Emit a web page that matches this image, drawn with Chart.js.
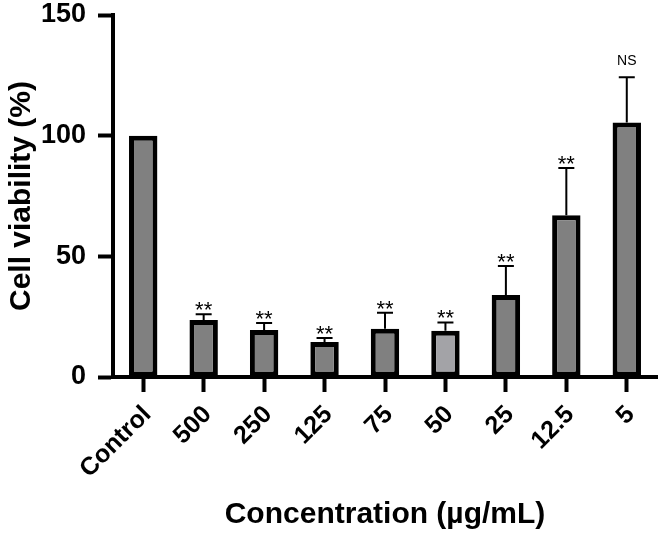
<!DOCTYPE html>
<html>
<head>
<meta charset="utf-8">
<script src="https://cdn.jsdelivr.net/npm/chart.js@4.4.1/dist/chart.umd.min.js"></script>
<style>
  html, body { margin: 0; padding: 0; background: #fff; }
  #wrap { width: 662px; height: 539px; }
</style>
</head>
<body>
<div id="wrap"><canvas id="chart"></canvas></div>
<script>
// Data
const categories = ['Control', '500', '250', '125', '75', '50', '25', '12.5', '5'];
const viability = [100, 23.6, 19.5, 14.5, 20, 19.2, 34, 67, 105.5];
const errorUp = [0, 2.4, 2.9, 1.7, 6.6, 3.4, 12, 19.6, 18.7];
const significance = ['', '**', '**', '**', '**', '**', '**', '**', 'NS'];
const yTicks = [0, 50, 100, 150];

const FONT = "'Liberation Sans', Arial, sans-serif";
const barFills = categories.map(c => c === '50' ? '#a3a3a7' : '#808080');

// Error bars + significance marks drawn on top of the bars
const errorBarPlugin = {
    id: 'errorBars',
    afterDatasetsDraw(chart) {
        const ctx = chart.ctx;
        const y = chart.scales.y;
        const bars = chart.getDatasetMeta(0).data;
        ctx.save();
        ctx.strokeStyle = '#000';
        ctx.fillStyle = '#000';
        ctx.lineWidth = 2;
        bars.forEach((bar, i) => {
            const top = y.getPixelForValue(viability[i]);
            const cap = y.getPixelForValue(viability[i] + errorUp[i]);
            if (errorUp[i] > 0) {
                ctx.beginPath();
                ctx.moveTo(bar.x, top);
                ctx.lineTo(bar.x, cap);
                ctx.moveTo(bar.x - 8, cap);
                ctx.lineTo(bar.x + 8, cap);
                ctx.stroke();
            }
            const mark = significance[i];
            if (!mark) return;
            ctx.textAlign = 'center';
            ctx.textBaseline = 'alphabetic';
            if (mark === 'NS') {
                ctx.font = '14px ' + FONT;
                ctx.fillText(mark, bar.x, cap - 12);
            } else {
                ctx.font = '22px ' + FONT;
                ctx.fillText(mark, bar.x, cap + 3);
            }
        });
        ctx.restore();
    }
};

new Chart(document.getElementById('chart').getContext('2d'), {
    type: 'bar',
    data: {
        labels: categories,
        datasets: [{
            data: viability,
            backgroundColor: barFills,
            borderColor: '#000',
            borderWidth: 5,
            borderSkipped: false,
            categoryPercentage: 1,
            barPercentage: 0.47
        }]
    },
    options: {
        responsive: true,
        maintainAspectRatio: false,
        animation: false,
        devicePixelRatio: 1,
        layout: { padding: { top: 15, right: 5, left: 0, bottom: 0 } },
        plugins: {
            legend: { display: false },
            tooltip: { enabled: false }
        },
        scales: {
            x: {
                offset: true,
                grid: {
                    offset: false,
                    drawOnChartArea: false,
                    drawTicks: true,
                    tickLength: 15,
                    tickWidth: 4,
                    tickColor: '#000'
                },
                border: { display: true, color: '#000', width: 4 },
                ticks: {
                    color: '#000',
                    font: { family: FONT, size: 25, weight: 'bold' },
                    minRotation: 45,
                    maxRotation: 45,
                    autoSkip: false,
                    padding: 8,
                    labelOffset: 4
                },
                title: {
                    display: true,
                    text: 'Concentration (µg/mL)',
                    color: '#000',
                    font: { family: FONT, size: 30, weight: 'bold' },
                    padding: { top: 0, bottom: 6 }
                },
                afterFit(scale) { scale.height = 162; }
            },
            y: {
                min: 0,
                max: 150,
                afterBuildTicks(scale) { scale.ticks = yTicks.map(v => ({ value: v })); },
                grid: {
                    drawOnChartArea: false,
                    drawTicks: true,
                    tickLength: 15,
                    tickWidth: 4,
                    tickColor: '#000'
                },
                border: { display: true, color: '#000', width: 4 },
                ticks: {
                    color: '#000',
                    font: { family: FONT, size: 27, weight: 'bold' },
                    padding: 12
                },
                title: {
                    display: true,
                    text: 'Cell viability (%)',
                    color: '#000',
                    font: { family: FONT, size: 30, weight: 'bold' },
                    padding: { top: 4, bottom: 0 }
                },
                afterFit(scale) {
                    scale.width = 113;
                    scale.paddingTop = 0;
                    scale.paddingBottom = 0;
                }
            }
        }
    },
    plugins: [errorBarPlugin]
});
</script>
</body>
</html>
